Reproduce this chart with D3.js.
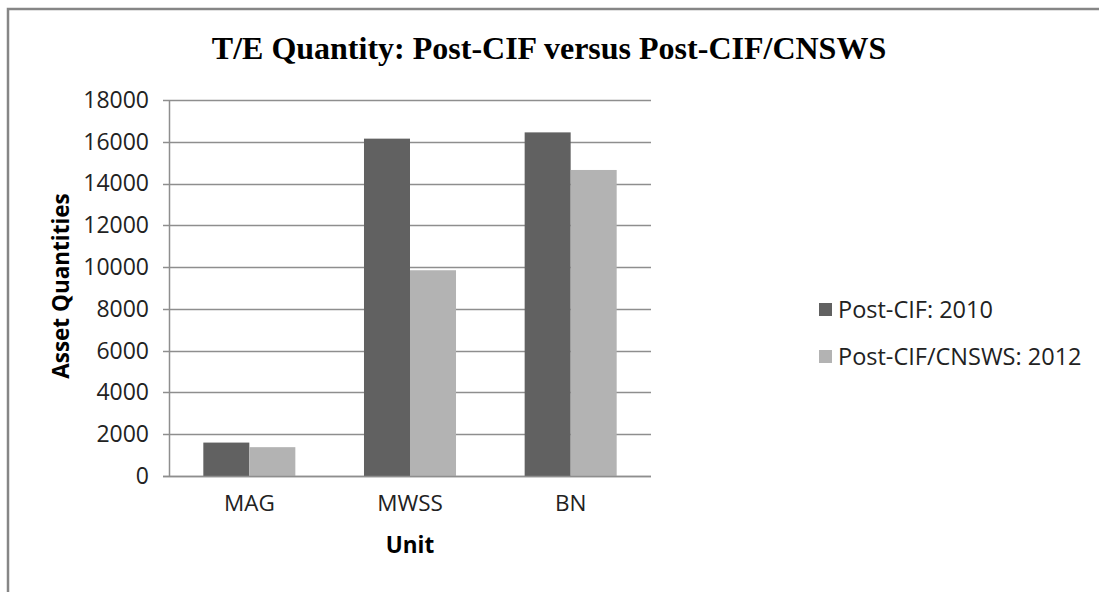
<!DOCTYPE html>
<html>
<head>
<meta charset="utf-8">
<script src="https://cdn.jsdelivr.net/npm/d3@7"></script>
<style>
  html, body { margin: 0; padding: 0; background: #fff; }
  svg { display: block; }
</style>
</head>
<body>
<svg id="chart" width="1099" height="592"></svg>
<script>
const categories = ["MAG", "MWSS", "BN"];
const seriesNames = ["Post-CIF: 2010", "Post-CIF/CNSWS: 2012"];
const postCIF2010 = [1600, 16150, 16450];
const postCIFCNSWS2012 = [1380, 9850, 14650];
const yTicks = [0, 2000, 4000, 6000, 8000, 10000, 12000, 14000, 16000, 18000];
const titleText = "T/E Quantity: Post-CIF versus Post-CIF/CNSWS";
const xTitle = "Unit";
const yTitle = "Asset Quantities";
const colors = ["#616161", "#b3b3b3"];

const seriesValues = [postCIF2010, postCIFCNSWS2012];
const svg = d3.select("#chart");
const W = 1099, H = 592;
const plot = { left: 169, right: 651, top: 100, bottom: 476 };
const labelFont = "'Open Sans', 'Liberation Sans', sans-serif";

// outer frame
svg.append("rect").attr("x", 8).attr("y", 9).attr("width", W + 20).attr("height", H + 20)
  .attr("fill", "#fff").attr("stroke", "#868686").attr("stroke-width", 2.5);

// title
svg.append("text").attr("x", 549).attr("y", 59).attr("text-anchor", "middle")
  .attr("font-family", "'Liberation Serif', 'Times New Roman', serif")
  .attr("font-weight", "bold").attr("font-size", 32).attr("fill", "#000")
  .text(titleText);

const y = d3.scaleLinear().domain([0, 18000]).range([plot.bottom, plot.top]);
const x0 = d3.scaleBand().domain(categories).range([plot.left, plot.right]).padding(0);
const x1 = d3.scaleBand().domain(d3.range(seriesNames.length)).range([0, x0.bandwidth()])
  .paddingInner(0).paddingOuter(0.746);

// gridlines
svg.append("g").selectAll("line").data(yTicks).join("line")
  .attr("x1", plot.left - 6).attr("x2", plot.right)
  .attr("y1", d => Math.round(y(d)) + 0.5).attr("y2", d => Math.round(y(d)) + 0.5)
  .attr("stroke", "#8e8e8e").attr("stroke-width", 1.5);

// y axis
const yAxis = d3.axisLeft(y).tickValues(yTicks).tickSize(0).tickPadding(20)
  .tickFormat(d3.format("d"));
const gy = svg.append("g").attr("transform", `translate(${plot.left},0)`).call(yAxis);
gy.select(".domain").remove();
gy.selectAll("text").attr("font-family", labelFont).attr("font-size", 23).attr("fill", "#222");

// bars
const groups = svg.append("g").selectAll("g").data(categories).join("g")
  .attr("transform", d => `translate(${x0(d)},0)`);
groups.selectAll("rect").data((c, ci) => seriesValues.map((vals, si) => ({ si, v: vals[ci] })))
  .join("rect")
  .attr("x", d => x1(d.si)).attr("width", x1.bandwidth())
  .attr("y", d => y(d.v)).attr("height", d => y(0) - y(d.v))
  .attr("fill", d => colors[d.si]);

// axis lines
svg.append("line").attr("x1", plot.left + 0.5).attr("x2", plot.left + 0.5)
  .attr("y1", plot.top).attr("y2", plot.bottom)
  .attr("stroke", "#8e8e8e").attr("stroke-width", 1.5);

// x axis
const xAxis = d3.axisBottom(x0).tickSize(0).tickPadding(19);
const gx = svg.append("g").attr("transform", `translate(0,${plot.bottom})`).call(xAxis);
gx.select(".domain").remove();
gx.selectAll("text").attr("font-family", labelFont).attr("font-size", 22.5).attr("fill", "#222");
svg.append("line").attr("x1", plot.left - 6).attr("x2", plot.right)
  .attr("y1", plot.bottom + 0.5).attr("y2", plot.bottom + 0.5)
  .attr("stroke", "#8e8e8e").attr("stroke-width", 1.5);

// axis titles
svg.append("text").attr("x", (plot.left + plot.right) / 2).attr("y", 553)
  .attr("text-anchor", "middle").attr("font-family", labelFont).attr("font-weight", "bold")
  .attr("font-size", 22.5).attr("fill", "#000").text(xTitle);
svg.append("text").attr("transform", "translate(69,286) rotate(-90)")
  .attr("text-anchor", "middle").attr("font-family", labelFont).attr("font-weight", "bold")
  .attr("font-size", 22.5).attr("fill", "#000").text(yTitle);

// legend
const legend = svg.append("g").selectAll("g").data(seriesNames).join("g")
  .attr("transform", (d, i) => `translate(819,${310 + i * 47})`);
legend.append("rect").attr("x", 0).attr("y", -7).attr("width", 13).attr("height", 13)
  .attr("fill", (d, i) => colors[i]);
legend.append("text").attr("x", 19).attr("y", 0).attr("dy", "0.35em")
  .attr("font-family", labelFont).attr("font-size", 23.5).attr("fill", "#222").text(d => d);
</script>
</body>
</html>
